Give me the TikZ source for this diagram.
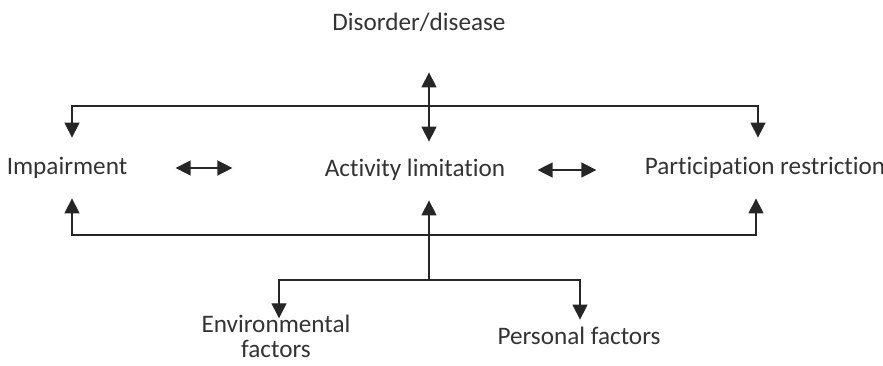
\documentclass[tikz,border=0pt]{standalone}
\usepackage{fontspec}
\setmainfont[Ligatures=NoCommon]{Carlito}
\usetikzlibrary{arrows.meta}
\tikzset{
  lbl/.style={inner xsep=0pt, inner ysep=9pt, text height=9pt, text depth=3pt,
    font=\fontsize{12.6}{12.5}\selectfont, text=black!80},
  arr/.style={-{Triangle[width=7.5pt,length=7.5pt]}, line width=0.7pt, draw=black!85},
  dbl/.style={{Triangle[width=7.5pt,length=7.5pt]}-{Triangle[width=7.5pt,length=7.5pt]},
    line width=0.7pt, draw=black!85},
}
\begin{document}
\begin{tikzpicture}[x=0.5pt,y=-0.5pt]
  \useasboundingbox (0,0) rectangle (883,365);
  \draw
    (419,24) node[lbl, inner ysep=0pt] (dis) {Disorder/disease}
    (67,168) node[lbl] (imp) {Impairment}
    (415,170) node[lbl] (act) {Activity limitation}
    (765,168) node[lbl] (par) {Participation restriction}
    (276,336) node[lbl, inner ysep=1pt, text height=, text depth=, align=center] (env) {Environmental\\factors}
    (579,338) node[lbl, inner ysep=3pt] (per) {Personal factors};
  \coordinate (top) at (429,106);
  \coordinate (bot) at (429,235);
  \coordinate (low) at (429,280);
  \begin{scope}
    % disorder <-> activity
    \draw[dbl, shorten <=18pt, shorten >=-1pt] (dis.south -| top) -- (act.north -| top);
    \draw[arr] (top) -| ([xshift=2.5pt]imp.north);
    \draw[arr] (top) -| ([xshift=-3.5pt]par.north);
    % side arrows
    \draw[dbl, shorten <=24pt, shorten >=46pt] (imp.east) -- (imp.east -| act.west);
    \draw[dbl, shorten <=16pt, shorten >=24pt] (act.east) -- (act.east -| par.west);
    % from below
    \draw[arr] (bot) -| ([xshift=2.5pt]imp.south);
    \draw[arr] (bot) -| ([xshift=-4.5pt]par.south);
    \draw[arr] (low) -- (act.south -| low);
    \draw[arr, shorten >=-3pt] (low) -| ([xshift=1.5pt]env.north);
    \draw[arr] (low) -| ([xshift=0.5pt]per.north);
  \end{scope}
\end{tikzpicture}
\end{document}
